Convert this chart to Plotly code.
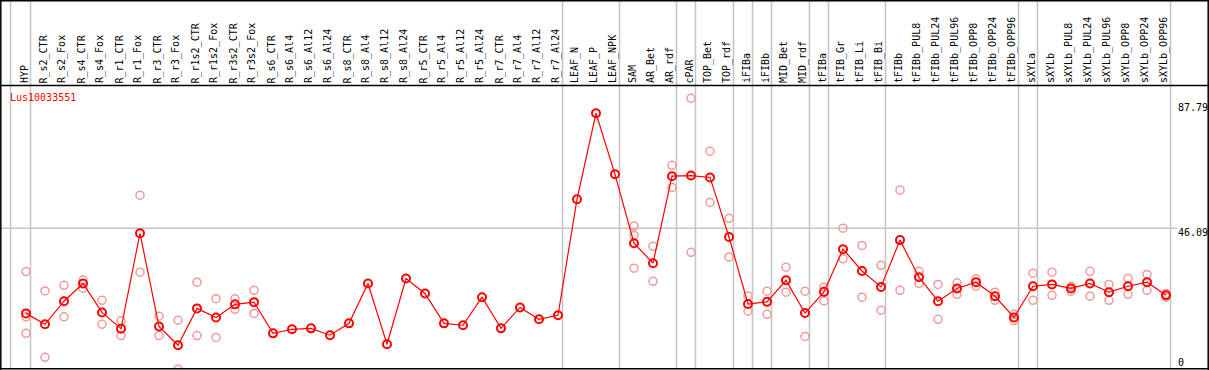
import plotly.graph_objects as go

categories = [
    "HYP", "R_s2_CTR", "R_s2_Fox", "R_s4_CTR", "R_s4_Fox", "R_r1_CTR", "R_r1_Fox",
    "R_r3_CTR", "R_r3_Fox", "R_r1s2_CTR", "R_r1s2_Fox", "R_r3s2_CTR", "R_r3s2_Fox",
    "R_s6_CTR", "R_s6_Al4", "R_s6_Al12", "R_s6_Al24", "R_s8_CTR", "R_s8_Al4",
    "R_s8_Al12", "R_s8_Al24", "R_r5_CTR", "R_r5_Al4", "R_r5_Al12", "R_r5_Al24",
    "R_r7_CTR", "R_r7_Al4", "R_r7_Al12", "R_r7_Al24", "LEAF_N", "LEAF_P", "LEAF_NPK",
    "SAM", "AR_Bet", "AR_rdf", "cPAR", "TOP_Bet", "TOP_rdf", "iFIBa", "iFIBb",
    "MID_Bet", "MID_rdf", "tFIBa", "tFIB_Gr", "tFIB_Li", "tFIB_Bi", "tFIBb",
    "tFIBb_PUL8", "tFIBb_PUL24", "tFIBb_PUL96", "tFIBb_OPP8", "tFIBb_OPP24", "tFIBb_OPP96",
    "sXYLa", "sXYLb", "sXYLb_PUL8", "sXYLb_PUL24", "sXYLb_PUL96", "sXYLb_OPP8",
    "sXYLb_OPP24", "sXYLb_OPP96",
]

mean_values = [
    18.8, 15.3, 22.7, 28.4, 19.1, 13.9, 44.5, 14.6, 8.6, 20.4, 17.5, 21.7, 22.4,
    12.4, 13.7, 14.0, 11.8, 15.6, 28.4, 8.9, 30.0, 25.2, 15.6, 15.0, 24.0,
    14.0, 20.7, 16.9, 18.2, 55.4, 83.0, 63.4,
    41.3, 34.9, 62.8, 63.0, 62.4, 43.3, 21.8, 22.5, 29.4, 18.9,
    25.7, 39.4, 32.4, 27.3, 42.3,
    30.4, 22.7, 26.8, 28.8, 24.3, 17.5,
    27.5, 28.1, 26.8, 28.4, 25.6, 27.5, 28.8, 24.6,
]

N = None
rep_a = [
    32.2, 26.0, 27.8, 29.5, 23.0, 16.4, 56.7, 17.9, 16.6, 28.8, 23.5, 23.5, 26.2,
    N, N, N, N, N, N, N, N, N, N, N, N, N, N, N, N, N, N, N,
    46.8, 40.3, 66.3, 87.8, 70.8, 49.3, 24.4, 25.9, 33.6, 25.9,
    27.3, 46.1, 40.6, 34.2, 58.4,
    32.3, 28.1, 28.6, 29.9, 25.6, 18.5,
    31.7, 32.0, 27.5, 32.3, 28.1, 30.0, 31.3, 25.2,
]
rep_b = [
    17.7, 4.7, 17.7, 26.9, 15.3, 11.7, 32.0, 11.7, 0.9, 11.7, 11.1, 20.1, 18.8,
    N, N, N, N, N, N, N, N, N, N, N, N, N, N, N, N, N, N, N,
    33.3, 29.1, 59.2, 38.4, 54.4, 36.9, 19.5, 18.5, 25.6, 11.4,
    22.8, 36.3, 24.0, 19.8, 26.2,
    28.4, 16.9, 24.9, 27.5, 23.0, 16.5,
    23.0, 24.6, 25.9, 24.3, 23.0, 24.9, 26.2, 24.0,
]
rep_c = [12.4] + [N] * 31 + [43.8] + [N] * 28

gene_name = "Lus10033551"
axis_labels = ["87.79", "46.09", "0"]
grid_value = 46.09
# separators placed just right of these category indices (-1 = before first)
separator_after = [-1, 0, 28, 31, 34, 35, 37, 38, 39, 41, 42, 45, 52, 53, 60]

W, H = 1209, 370
TOP, BOT = 86, 369          # plot area pixel rows
X0, DX = 26, 19             # pixel x of first category, spacing
Y_SLOPE, Y_ZERO = 3.118, 372.0

def px_x(px):
    return (px - X0) / DX

def val_of_row(Y):
    return (Y_ZERO - Y) / Y_SLOPE

def paper_y(Y):
    return (BOT - Y) / (BOT - TOP)

def paper_x(px):
    return px / W

fig = go.Figure()

rep_color = "#F29A9A"
for reps in (rep_a, rep_b, rep_c):
    xs = [c for c, v in zip(categories, reps) if v is not None]
    ys = [v for v in reps if v is not None]
    fig.add_trace(go.Scatter(
        x=xs, y=ys, mode="markers",
        marker=dict(symbol="circle-open", size=8, color=rep_color, line=dict(width=1.5, color=rep_color)),
        showlegend=False, hoverinfo="skip",
    ))

fig.add_trace(go.Scatter(
    x=categories, y=mean_values, mode="lines+markers",
    line=dict(color="#FF0000", width=1.2),
    marker=dict(symbol="circle-open", size=8, color="#FF0000", line=dict(width=2, color="#FF0000")),
    showlegend=False,
))

shapes = []
gray = "#C4C4C4"
for idx in separator_after:
    if idx == -1:
        xv = px_x(10.5)
    else:
        xv = idx + 4.5 / DX
    shapes.append(dict(type="line", xref="x", yref="paper", x0=xv, x1=xv,
                       y0=paper_y(BOT), y1=paper_y(0), line=dict(color=gray, width=1.5), layer="below"))
shapes.append(dict(type="line", xref="paper", yref="y", x0=paper_x(1), x1=paper_x(1177),
                   y0=grid_value, y1=grid_value, line=dict(color=gray, width=1.5), layer="below"))
black = "#000000"
shapes.append(dict(type="line", xref="paper", yref="paper", x0=0, x1=1, y0=paper_y(0.7), y1=paper_y(0.7), line=dict(color=black, width=1.5)))
shapes.append(dict(type="line", xref="paper", yref="paper", x0=0, x1=1, y0=paper_y(85.5), y1=paper_y(85.5), line=dict(color=black, width=1.5)))
shapes.append(dict(type="line", xref="paper", yref="paper", x0=0, x1=1, y0=paper_y(368.8), y1=paper_y(368.8), line=dict(color=black, width=1.5)))
shapes.append(dict(type="line", xref="paper", yref="paper", x0=paper_x(0.8), x1=paper_x(0.8), y0=paper_y(0), y1=paper_y(370), line=dict(color=black, width=1.5)))
shapes.append(dict(type="line", xref="paper", yref="paper", x0=paper_x(1208.2), x1=paper_x(1208.2), y0=paper_y(0), y1=paper_y(370), line=dict(color=black, width=1.5)))

annotations = []
mono = "DejaVu Sans Mono"
for c in categories:
    annotations.append(dict(
        x=c, xref="x", y=paper_y(84.5), yref="paper", text=c, textangle=-90,
        showarrow=False, xanchor="center", yanchor="bottom", xshift=-1.5,
        font=dict(family=mono, size=10, color="black"), borderpad=0,
    ))
annotations.append(dict(
    x=paper_x(9), y=paper_y(91), xref="paper", yref="paper", text=gene_name,
    showarrow=False, xanchor="left", yanchor="top",
    font=dict(family=mono, size=10, color="#FF0000"), borderpad=0,
))
label_rows = [107, 232, 362]
for t, row in zip(axis_labels, label_rows):
    annotations.append(dict(
        x=paper_x(1177), y=paper_y(row), xref="paper", yref="paper", text=t,
        showarrow=False, xanchor="left", yanchor="middle",
        font=dict(family=mono, size=10, color="black"), borderpad=0,
    ))

fig.update_layout(
    width=W, height=H,
    margin=dict(l=0, r=0, t=TOP, b=H - BOT, pad=0, autoexpand=False),
    paper_bgcolor="white", plot_bgcolor="white",
    xaxis=dict(type="category", categoryorder="array", categoryarray=categories,
               range=[px_x(0), px_x(W)], showticklabels=False, showgrid=False,
               zeroline=False, showline=False, ticks=""),
    yaxis=dict(range=[val_of_row(BOT), val_of_row(TOP)], showticklabels=False,
               showgrid=False, zeroline=False, showline=False, ticks=""),
    shapes=shapes, annotations=annotations,
)

fig.write_html("out.html", config={"displayModeBar": False},
               post_script="document.body.style.margin='0';document.body.style.overflow='hidden';")
